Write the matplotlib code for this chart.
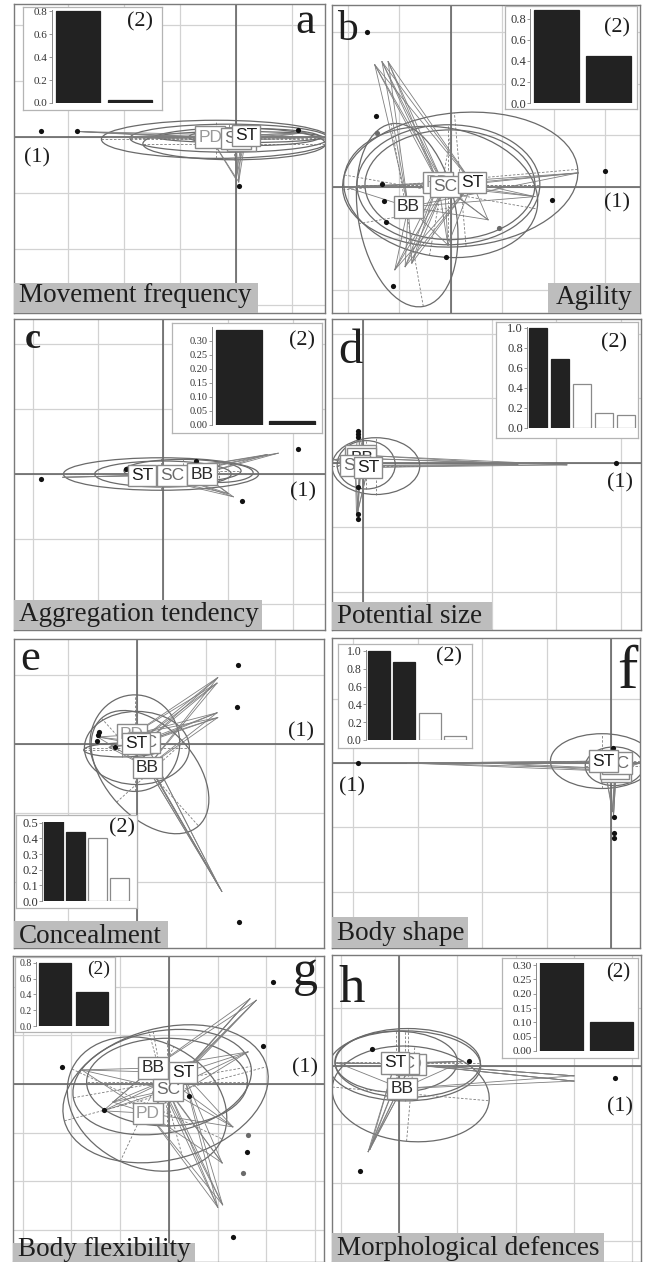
import numpy as np
import matplotlib
matplotlib.use("Agg")
import matplotlib.pyplot as plt
from matplotlib.patches import Ellipse, Rectangle

FIG_W, FIG_H = 646, 1262
SERIF = ["Liberation Serif", "DejaVu Serif"]
SANS = ["Liberation Sans", "DejaVu Sans"]

PANELS = ["a", "b", "c", "d", "e", "f", "g", "h"]

TITLES = {
    "a": "Movement frequency", "b": "Agility", "c": "Aggregation tendency",
    "d": "Potential size", "e": "Concealment", "f": "Body shape",
    "g": "Body flexibility", "h": "Morphological defences",
}

# axis ranges of each ordination panel (grid step = 1)
XLIM = {
    "a": (-3.96, 1.59), "b": (-2.31, 3.67), "c": (-2.29, 2.49), "d": (-0.48, 4.31),
    "e": (-1.78, 2.71), "f": (-4.33, 0.45), "g": (-3.20, 3.18), "h": (-1.15, 4.15),
}
YLIM = {
    "a": (-3.14, 2.375), "b": (-2.45, 3.53), "c": (-2.40, 2.385), "d": (-2.59, 2.23),
    "e": (-2.96, 1.52), "f": (-2.87, 1.94), "g": (-3.655, 2.63), "h": (-3.36, 1.90),
}

# black points
DOT_X = {
    "a": [-3.48, -2.84, 1.11, 0.05],
    "b": [-1.63, -1.46, -1.34, -1.30, -1.26, -1.13, -0.10, 1.96, 2.99],
    "c": [-1.88, -0.57, 0.50, 1.21, 2.07],
    "d": [3.92, -0.08, -0.08, -0.08, -0.08, -0.08, -0.08],
    "e": [1.46, 1.45, 1.48, -0.57, -0.58, -0.32, -0.55],
    "f": [-3.92, 0.03, 0.05, 0.05, 0.05],
    "g": [2.14, 1.93, -2.20, -1.33, 0.41, 1.60, 1.31],
    "h": [-0.46, 1.20, 3.70, -0.67],
}
DOT_Y = {
    "a": [0.11, 0.11, 0.12, -0.88],
    "b": [3.01, 1.38, 0.06, -0.27, -0.68, -1.92, -1.36, -0.25, 0.31],
    "c": [-0.08, 0.08, 0.20, -0.42, 0.38],
    "d": [0.00, 0.50, 0.45, 0.40, -0.37, -0.79, -0.87],
    "e": [1.14, 0.54, -2.58, 0.13, 0.04, -0.04, 0.17],
    "f": [0.00, 0.23, -0.84, -1.08, -1.16],
    "g": [2.09, 0.78, 0.35, -0.53, -0.25, -1.40, -3.14],
    "h": [0.29, 0.09, -0.21, -1.80],
}
GREY_DOT_X = {"b": [-1.44, 0.93], "g": [1.62, 1.52]}
GREY_DOT_Y = {"b": [1.05, -0.80], "g": [-1.05, -1.83]}

# class ellipses: (cx, cy, width, height, angle)
ELLIPSES = {
    "a": [(-0.35, -0.04, 4.10, 0.68, 0), (-0.12, -0.02, 3.54, 0.50, 0),
          (-0.03, -0.12, 3.26, 0.57, 0), (0.07, 0.00, 2.96, 0.20, 0),
          (0.33, 0.00, 2.34, 0.30, 0)],
    "b": [(0.18, 0.14, 4.58, 2.60, 5), (-0.05, 0.04, 3.55, 2.33, 0),
          (-0.02, 0.04, 3.30, 2.13, 0), (-0.85, -0.55, 3.60, 1.90, 100),
          (-0.20, -0.10, 3.80, 2.50, -10)],
    "c": [(-0.03, 0.00, 3.00, 0.50, 0), (0.00, 0.00, 2.10, 0.40, 0),
          (0.86, 0.02, 1.05, 0.30, 0), (0.30, 0.05, 1.80, 0.35, 0)],
    "d": [(0.20, -0.05, 1.36, 0.88, 0), (0.05, -0.03, 0.90, 0.75, 0)],
    "e": [(-0.03, 0.01, 1.30, 1.40, 0), (0.19, -0.41, 2.10, 1.30, -48),
          (0.00, -0.06, 1.52, 1.06, 0), (-0.22, -0.09, 1.10, 0.20, 0)],
    "f": [(-0.14, 0.03, 1.60, 0.85, 0), (0.05, -0.05, 0.90, 0.60, 0)],
    "g": [(-0.07, -0.20, 4.30, 2.70, 15), (-0.45, -0.41, 3.40, 2.60, -25),
          (-0.14, 0.04, 3.70, 2.10, 10), (-0.04, 0.04, 3.30, 1.80, 0)],
    "h": [(0.15, 0.05, 2.49, 1.18, 0), (-0.05, 0.07, 2.10, 1.05, 0),
          (0.20, -0.48, 2.70, 1.63, -5), (0.10, 0.00, 2.60, 1.20, 0)],
}

# class labels (drawing order) and centroids
LAB_NAME = {
    "a": ["PD", "BB", "SC", "ST"], "b": ["BB", "PD", "SC", "ST"],
    "c": ["SC", "ST", "BB"], "d": ["PD", "BB", "SC", "ST"],
    "e": ["PD", "SC", "ST", "BB"], "f": ["PD", "BB", "SC", "ST"],
    "g": ["PD", "BB", "SC", "ST"], "h": ["PD", "SC", "ST", "BB"],
}
LAB_X = {
    "a": [-0.46, 0.10, 0.00, 0.18], "b": [-0.83, -0.25, -0.12, 0.41],
    "c": [0.14, -0.32, 0.60], "d": [-0.04, -0.02, -0.12, 0.08],
    "e": [-0.07, 0.12, -0.01, 0.15], "f": [0.08, 0.06, 0.09, -0.12],
    "g": [-0.43, -0.33, -0.02, 0.29], "h": [0.20, 0.08, -0.07, 0.05],
}
LAB_Y = {
    "a": [0.00, -0.06, -0.03, 0.03], "b": [-0.39, 0.08, 0.00, 0.08],
    "c": [-0.02, -0.02, 0.00], "d": [0.12, 0.07, -0.04, -0.07],
    "e": [0.13, 0.02, 0.00, -0.34], "f": [-0.13, -0.09, 0.00, 0.03],
    "g": [-0.60, 0.33, -0.12, 0.23], "h": [0.03, 0.04, 0.05, -0.39],
}
LAB_COLOR = {"ST": "#1c1c1c", "BB": "#2c2c2c", "SC": "#6a6a6a", "PD": "#9a9a9a"}

# individual positions the stars point to
STAR_X = {
    "a": [-2.84, -2.30, 1.55, 1.25, 0.00, 0.05],
    "b": [-1.48, -1.34, -1.22, -1.09, -0.89, -0.76, 2.47, 1.63, 0.72, -2.06, -0.06],
    "c": [1.77, 1.60, 1.08, 1.00, -1.54, -0.90],
    "d": [3.16, 2.40, -0.45, -0.08, -0.10, -0.08],
    "e": [1.17, 1.16, 1.16, 1.17, 1.23, 1.20, -0.57, -0.40],
    "f": [-3.16, -2.00, 0.04, 0.02, 0.45, 0.03],
    "g": [1.66, 1.79, 1.62, 1.00, 1.10, 1.31, 1.09, -1.79, -1.15, -1.35],
    "h": [3.00, 3.00, -0.53, -0.50, -1.05, 1.10],
}
STAR_Y = {
    "a": [0.10, 0.00, 0.00, 0.08, -0.75, -0.80],
    "b": [2.37, 2.43, 2.43, -1.61, -1.55, -1.48, 0.27, -0.19, -0.64, 0.00, -1.13],
    "c": [0.32, 0.30, -0.35, -0.30, -0.05, 0.00],
    "d": [-0.03, -0.02, 0.05, -0.76, -0.82, 0.50],
    "e": [0.96, 0.88, 0.45, 0.38, -2.14, -2.09, 0.10, -0.05],
    "f": [0.00, 0.01, -0.80, -0.75, 0.00, 0.23],
    "g": [1.75, 1.72, 0.66, -2.53, -2.48, -0.88, -1.62, 0.29, -0.37, -0.55],
    "h": [-0.17, -0.26, -1.47, -1.43, 0.05, 0.08],
}

# eigenvalue insets (2 kept axes drawn black)
EIG = {
    "a": [0.80, 0.025], "b": [0.89, 0.45], "c": [0.34, 0.013],
    "d": [1.00, 0.69, 0.44, 0.15, 0.13], "e": [0.51, 0.44, 0.40, 0.15],
    "f": [1.00, 0.87, 0.30, 0.04], "g": [0.80, 0.43], "h": [0.31, 0.10],
}
N_KEPT = 2
EIG_TICKS = {
    "a": [0.0, 0.2, 0.4, 0.6, 0.8], "b": [0.0, 0.2, 0.4, 0.6, 0.8],
    "c": [0.0, 0.05, 0.10, 0.15, 0.20, 0.25, 0.30],
    "d": [0.0, 0.2, 0.4, 0.6, 0.8, 1.0], "e": [0.0, 0.1, 0.2, 0.3, 0.4, 0.5],
    "f": [0.0, 0.2, 0.4, 0.6, 0.8, 1.0], "g": [0.0, 0.2, 0.4, 0.6, 0.8],
    "h": [0.0, 0.05, 0.10, 0.15, 0.20, 0.25, 0.30],
}
EIG_DEC = {"a": 1, "b": 1, "c": 2, "d": 1, "e": 1, "f": 1, "g": 1, "h": 2}

# ---- layout (pixels, top-left origin) ----
PANEL_BOX = {
    "a": (14, 4, 325, 313), "b": (332, 5, 640, 313), "c": (14, 319, 325, 630),
    "d": (332, 319, 641, 630), "e": (14, 639, 324, 948), "f": (332, 638, 640, 948),
    "g": (13, 956, 324, 1262), "h": (332, 955, 641, 1262),
}
INSET_BOX = {
    "a": (23, 7, 162, 110), "b": (505, 6, 637, 109), "c": (172, 323, 322, 433),
    "d": (496, 322, 638, 438), "e": (16, 815, 137, 908), "f": (338, 644, 472, 748),
    "g": (15, 957, 115, 1032), "h": (502, 958, 638, 1058),
}
INSET_AX = {
    "a": (52, 10, 156, 103), "b": (530, 9, 635, 103), "c": (212, 327, 319, 425),
    "d": (527, 327, 637, 428), "e": (42, 822, 131, 901), "f": (366, 650, 468, 740),
    "g": (36, 962, 111, 1026), "h": (536, 963, 637, 1051),
}
INSET_TOP = {"a": 0.809, "b": 0.895, "c": 0.35, "d": 1.01, "e": 0.505,
             "f": 1.01, "g": 0.81, "h": 0.307}
INSET_FS = {"a": 8, "b": 9, "c": 7.5, "d": 9, "e": 9, "f": 8.5, "g": 7, "h": 8}
TITLE_BOX = {
    "a": (14, 283, 258, 313), "b": (548, 283, 640, 313), "c": (14, 600, 262, 630),
    "d": (332, 602, 492, 630), "e": (14, 921, 168, 948), "f": (332, 917, 468, 948),
    "g": (13, 1243, 195, 1262), "h": (332, 1233, 604, 1262),
}
TITLE_BASE = {"a": 302, "b": 304, "c": 621, "d": 623, "e": 943, "f": 940,
              "g": 1256, "h": 1255}
LETTER_POS = {"a": (295, 33), "b": (337, 40), "c": (25, 348), "d": (338, 363),
              "e": (20, 670), "f": (617, 688), "g": (293, 985), "h": (338, 1002)}
LETTER_FS = {"a": 32, "b": 30, "c": 26, "d": 35, "e": 32, "f": 44, "g": 36, "h": 38}
ONE_POS = {"a": (37, 158), "b": (617, 203), "c": (303, 492), "d": (620, 483),
           "e": (301, 732), "f": (352, 787), "g": (305, 1068), "h": (620, 1107)}
TWO_POS = {"a": (140, 22), "b": (617, 28), "c": (302, 341), "d": (614, 343),
           "e": (122, 828), "f": (449, 657), "g": (99, 969), "h": (618, 973)}
TWO_FS = {"a": 16, "b": 16, "c": 16, "d": 16, "e": 16, "f": 16, "g": 14, "h": 15}


def px_rect(x0, y0, x1, y1):
    return [x0 / FIG_W, 1 - y1 / FIG_H, (x1 - x0) / FIG_W, (y1 - y0) / FIG_H]


def fx(x):
    return x / FIG_W


def fy(y):
    return 1 - y / FIG_H


def draw_panel(fig, k):
    ax = fig.add_axes(px_rect(*PANEL_BOX[k]))
    ax.set_xlim(XLIM[k])
    ax.set_ylim(YLIM[k])
    ax.set_xticks(np.arange(np.ceil(XLIM[k][0]), XLIM[k][1], 1.0))
    ax.set_yticks(np.arange(np.ceil(YLIM[k][0]), YLIM[k][1], 1.0))
    ax.grid(True, color="#d2d2d2", lw=0.9)
    ax.set_axisbelow(True)
    ax.tick_params(length=0, labelbottom=False, labelleft=False)
    for s in ax.spines.values():
        s.set_color("#7a7a7a")
        s.set_linewidth(1.0)
    ax.axhline(0, color="#5a5a5a", lw=1.1, zorder=1)
    ax.axvline(0, color="#5a5a5a", lw=1.1, zorder=1)

    for cx, cy, w, h, ang in ELLIPSES[k]:
        ax.add_patch(Ellipse((cx, cy), w, h, angle=ang, fill=False,
                             ec="#6a6a6a", lw=0.9, zorder=2))
        t = np.deg2rad(ang)
        ux, uy = np.cos(t), np.sin(t)
        ax.plot([cx - w / 2 * ux, cx + w / 2 * ux], [cy - w / 2 * uy, cy + w / 2 * uy],
                ls=(0, (3, 2)), color="#7c7c7c", lw=0.6, zorder=2)
        ax.plot([cx + h / 2 * uy, cx - h / 2 * uy], [cy - h / 2 * ux, cy + h / 2 * ux],
                ls=(0, (3, 2)), color="#7c7c7c", lw=0.6, zorder=2)

    for lx, ly in zip(LAB_X[k], LAB_Y[k]):
        for sx, sy in zip(STAR_X[k], STAR_Y[k]):
            ax.plot([lx, sx], [ly, sy], color="#7e7e7e", lw=0.6, zorder=2)

    ax.scatter(DOT_X[k], DOT_Y[k], s=14, color="#111111", zorder=4, linewidths=0)
    if k in GREY_DOT_X:
        ax.scatter(GREY_DOT_X[k], GREY_DOT_Y[k], s=14, color="#6a6a6a", zorder=4,
                   linewidths=0)

    for i, (name, lx, ly) in enumerate(zip(LAB_NAME[k], LAB_X[k], LAB_Y[k])):
        ax.text(lx, ly, name, ha="center", va="center", fontsize=12.5,
                family=SANS, color=LAB_COLOR[name], zorder=5 + i, clip_on=True,
                bbox=dict(boxstyle="square,pad=0.18", fc="white", ec="#8a8a8a", lw=1.0))

    # eigenvalue inset
    box = fig.add_axes(px_rect(*INSET_BOX[k]))
    box.set_xticks([])
    box.set_yticks([])
    for s in box.spines.values():
        s.set_color("#b4b4b4")
        s.set_linewidth(0.9)
    box.set_zorder(10)
    iax = fig.add_axes(px_rect(*INSET_AX[k]))
    iax.set_zorder(11)
    iax.patch.set_alpha(0)
    vals = EIG[k]
    n = len(vals)
    fc = ["#222222" if i < N_KEPT else "white" for i in range(n)]
    ec = ["#222222" if i < N_KEPT else "#8a8a8a" for i in range(n)]
    iax.bar(np.arange(n), vals, width=0.86, color=fc, edgecolor=ec, lw=0.9)
    iax.set_xlim(-0.5, n - 0.5)
    iax.set_ylim(0, INSET_TOP[k])
    iax.set_yticks(EIG_TICKS[k])
    iax.set_yticklabels([f"{v:.{EIG_DEC[k]}f}" for v in EIG_TICKS[k]],
                        family=SERIF, fontsize=INSET_FS[k], color="#333333")
    iax.set_xticks([])
    iax.tick_params(axis="y", length=2, width=0.6, pad=1, color="#888888")
    for side in ["top", "right", "bottom"]:
        iax.spines[side].set_visible(False)
    iax.spines["left"].set_color("#888888")
    iax.spines["left"].set_linewidth(0.7)

    # grey title band
    x0, y0, x1, y1 = TITLE_BOX[k]
    fig.add_artist(Rectangle((fx(x0), fy(y1)), fx(x1) - fx(x0), fy(y0) - fy(y1),
                             transform=fig.transFigure, fc="#bdbdbd", ec="none",
                             zorder=20))
    if k == "b":
        fig.text(fx(x1 - 8), fy(TITLE_BASE[k]), TITLES[k], ha="right", va="baseline",
                 family=SERIF, fontsize=19.5, color="#1e1e1e", zorder=21)
    else:
        fig.text(fx(x0 + 5), fy(TITLE_BASE[k]), TITLES[k], ha="left", va="baseline",
                 family=SERIF, fontsize=19.5, color="#1e1e1e", zorder=21)

    lx, ly = LETTER_POS[k]
    fig.text(fx(lx), fy(ly), k, ha="left", va="baseline", family=SERIF,
             fontsize=LETTER_FS[k], color="#1e1e1e", zorder=21,
             fontweight="bold" if k == "c" else "normal")
    ox, oy = ONE_POS[k]
    fig.text(fx(ox), fy(oy), "(1)", ha="center", va="center", family=SERIF,
             fontsize=16, color="#1e1e1e", zorder=21)
    tx, ty = TWO_POS[k]
    fig.text(fx(tx), fy(ty), "(2)", ha="center", va="center", family=SERIF,
             fontsize=TWO_FS[k], color="#1e1e1e", zorder=21)


def main():
    fig = plt.figure(figsize=(FIG_W / 100, FIG_H / 100), dpi=100)
    fig.patch.set_facecolor("white")
    for k in PANELS:
        draw_panel(fig, k)
    fig.savefig("out.png", dpi=100, facecolor="white")


if __name__ == "__main__":
    main()
